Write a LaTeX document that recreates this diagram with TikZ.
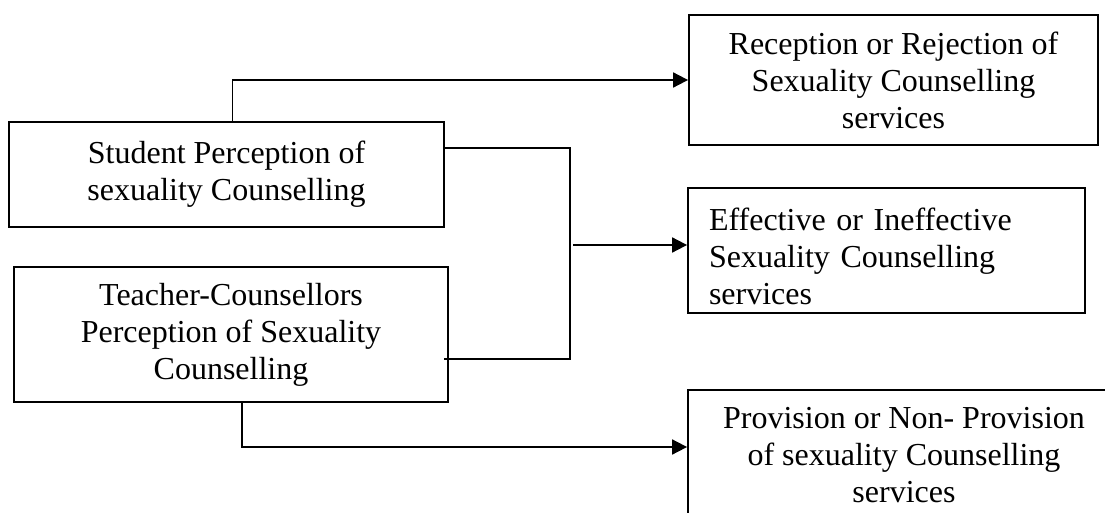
\documentclass[tikz,border=0pt]{standalone}
\usepackage{fontspec}
\setmainfont{Liberation Serif}
\usetikzlibrary{arrows.meta}

\begin{document}
\begin{tikzpicture}[x=1pt,y=-1pt,
  box/.style={rectangle,draw,line width=1.8pt,inner sep=0pt,align=center,font=\fontsize{32}{37}\selectfont},
  arrow/.style={line width=1.8pt,-{Triangle[length=15pt,width=15pt]}}]
\useasboundingbox (0,0) rectangle (1105,513);
\clip (0,0) rectangle (1105,513);

% perceptions
\node[box,minimum width=435pt,minimum height=105pt] at (226.5,174.5) (S) {Student Perception of\\sexuality Counselling};
\node[box,minimum width=434pt,minimum height=135pt] at (231,334.5) (T) {Teacher-Counsellors\\Perception of Sexuality\\Counselling};

% outcomes
\node[box,minimum width=409pt,minimum height=130pt] at (893.5,80) (R) {Reception or Rejection of\\Sexuality Counselling\\services};
\node[box,minimum width=397pt,minimum height=125pt,text width=355pt,align=left] at (886.5,250.5) (E) {\rule{0pt}{35pt}Effective or Ineffective\\Sexuality Counselling\\services};
\node[box,minimum width=432pt,minimum height=130pt] at (904,455) (P) {Provision or Non- Provision\\of sexuality Counselling\\services};

\coordinate (join) at (570,245);
\coordinate (bend) at (242,447);

\draw[arrow] ([xshift=6pt]S.north) |- (R.west);
\draw[line width=1.8pt] ([yshift=26.5pt]S.east) -| (join) |- ([xshift=-5pt,yshift=-24.5pt]T.east);
\draw[arrow] ([xshift=3pt]join) -- (join -| E.west);
\draw[arrow] ([xshift=11pt]T.south) -- (bend) -- (bend -| P.west);
\end{tikzpicture}
\end{document}
